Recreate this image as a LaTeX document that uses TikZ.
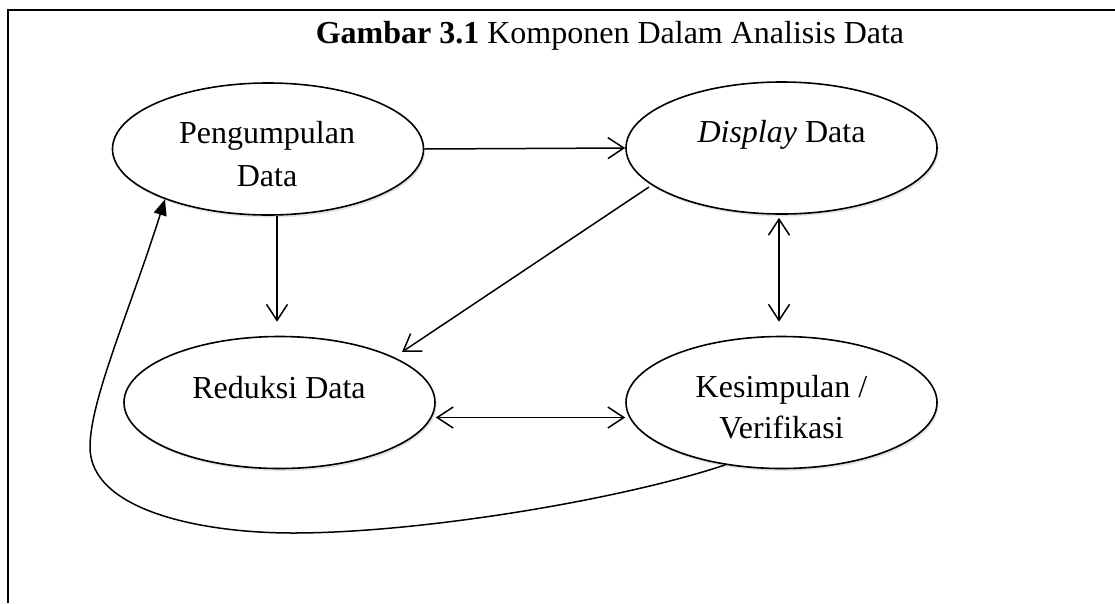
\documentclass[tikz,border=0pt]{standalone}
\usepackage{fontspec}
\setmainfont{Liberation Serif}
\usetikzlibrary{shapes.geometric,arrows.meta,shadows}
\begin{document}
\begin{tikzpicture}[x=1pt,y=-1pt,
  oval/.style={ellipse,draw,line width=1.6pt,fill=white,minimum width=311pt,minimum height=132pt,inner sep=0pt,
    drop shadow={shadow xshift=1.5pt,shadow yshift=-2.5pt,opacity=.22}},
  lbl/.style={anchor=base,inner sep=0pt,font=\fontsize{32}{43}\selectfont},
  conn/.style={line width=1.5pt,-{Straight Barb[length=16pt,width=21pt]}},
  dbl/.style={line width=1.5pt,{Straight Barb[length=16pt,width=21pt]}-{Straight Barb[length=16pt,width=21pt]}},
  loopconn/.style={line width=1.5pt,-{Triangle[length=16pt,width=13pt]}}]
\useasboundingbox (0,0) rectangle (1115,603);
\fill[white] (0,0) rectangle (1115,603);
% frame
\draw[line width=2pt] (7.5,603) -- (7.5,10) -- (1115,10);
% title
\node[lbl] (title) at (610,43) {\textbf{Gambar 3.1} Komponen Dalam Analisis Data};
% ellipses
\node[oval] (P) at (268,149) {};
\node[oval] (D) at (781.5,148) {};
\node[oval] (R) at (279.5,402.5) {};
\node[oval] (K) at (781.5,402.5) {};
% labels
\node[lbl] (t1) at (267,143) {Pengumpulan};
\node[lbl] (t2) at (267,186) {Data};
\node[lbl] (t3) at (781.5,142) {\textit{Display} Data};
\node[lbl] (t4) at (279,398) {Reduksi Data};
\node[lbl] (t5) at (781.5,397) {Kesimpulan /};
\node[lbl] (t6) at (781.5,438) {Verifikasi};
% helper coordinates
\coordinate (dstart) at (649,187);
\coordinate (rtip) at (402,352);
% connectors
\draw[conn] (P.east) -- (D.west);
\draw[conn] ([xshift=9pt]P.south) -- ([xshift=-2.5pt,yshift=14pt]R.north);
\draw[conn] (dstart) -- (rtip);
\draw[dbl] ([xshift=-2.5pt,yshift=-3pt]D.south) -- ([xshift=-2.5pt,yshift=14pt]K.north);
\draw[dbl] ([yshift=-15pt]R.east) -- ([yshift=-15pt]K.west);
\draw[loopconn] (K.228.6) .. controls (620,500) and (420,533) .. (293,533)
  .. controls (200,533) and (90,510) .. (90,447)
  .. controls (90,400) and (130,310) .. (P.206.6);
\end{tikzpicture}
\end{document}
